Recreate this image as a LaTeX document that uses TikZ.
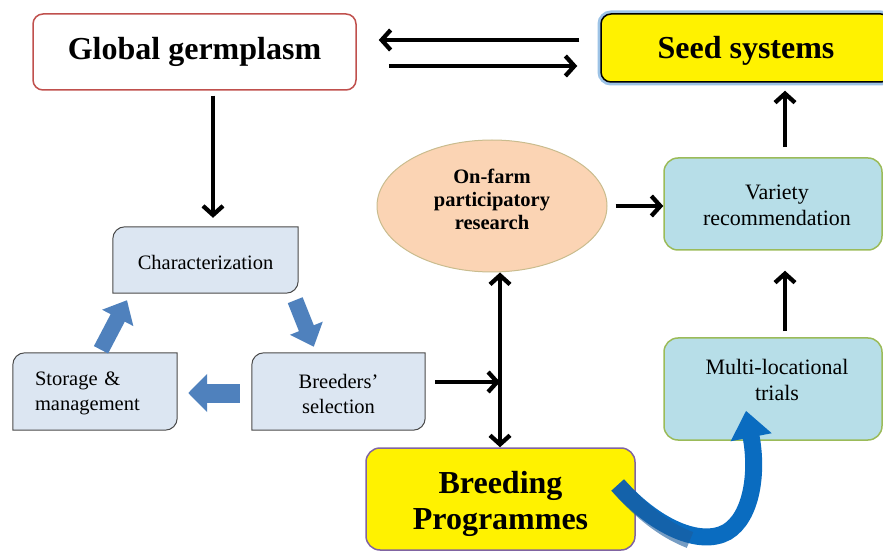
\documentclass[tikz,border=0pt]{standalone}
\usepackage{fontspec}
\setmainfont{Liberation Serif}
\usetikzlibrary{arrows.meta,shapes.geometric,backgrounds}
\definecolor{ggred}{HTML}{C0504D}
\definecolor{snipfill}{HTML}{DCE6F2}
\definecolor{snipline}{HTML}{4A4A4A}
\definecolor{varfill}{HTML}{B7DEE8}
\definecolor{vargreen}{HTML}{9BBB59}
\definecolor{ellfill}{HTML}{FBD4B4}
\definecolor{elltan}{HTML}{C9BC8E}
\definecolor{purp}{HTML}{8064A2}
\definecolor{blkblue}{HTML}{4F81BD}
\definecolor{curveblue}{HTML}{0A6CC0}
\definecolor{curvedark}{HTML}{1B5C9C}
\definecolor{glow}{HTML}{9DC3E6}
\begin{document}
\begin{tikzpicture}[x=1pt,y=1pt,
  bigtext/.style={font=\fontsize{32}{36}\selectfont\bfseries},
  ggbox/.style={draw=ggred,line width=1.5pt,fill=white,rounded corners=10pt,minimum width=323pt,minimum height=76pt,bigtext},
  seedbox/.style={draw=black,line width=1.5pt,fill=yellow,rounded corners=10pt,minimum width=290pt,minimum height=68pt,
     preaction={draw=glow,line width=7pt}},
  breedbox/.style={draw=purp,line width=1.5pt,fill=yellow,rounded corners=14pt,minimum width=269pt,minimum height=102pt},
  greenbox/.style={draw=vargreen,line width=1.5pt,fill=varfill,rounded corners=14pt,minimum width=218pt},
  greentext/.style={align=center,font=\fontsize{22}{26}\selectfont},
  snipnode/.style={minimum height=77pt,align=center,font=\fontsize{20.5}{25}\selectfont},
  sniptext/.style={align=center,font=\fontsize{20.5}{25}\selectfont},
  snippath/.style={draw=snipline,line width=1pt,fill=snipfill},
  ellnode/.style={ellipse,draw=elltan,line width=1pt,fill=ellfill,minimum width=230pt,minimum height=132pt},
  elltext/.style={align=center,font=\fontsize{20.5}{23.5}\selectfont\bfseries},
  arr/.style={line width=4.3pt,-{Straight Barb[length=9pt,width=20pt,line width=4.3pt]}},
  darr/.style={line width=4.3pt,{Straight Barb[length=9pt,width=20pt,line width=4.3pt]}-{Straight Barb[length=9pt,width=20pt,line width=4.3pt]}},
  blk/.style={blkblue,line width=16pt,-{Triangle[length=20pt,width=34pt]}},
  curvearr/.style={curveblue,line width=17pt,-{Triangle[length=27pt,width=40pt]}}
]
\useasboundingbox (0,0) rectangle (883,552);

% box shapes
\node[ggbox] (gg) at (194.5,500) {Global germplasm};
\node[seedbox] (seed) at (746,504) {};
\node[bigtext] (seedT) at ([yshift=-3pt]seed.center) {Seed systems};
\node[ellnode] (ell) at (492,346) {};
\node[elltext] (ellT) at ([yshift=7pt]ell.center) {On-farm\\participatory\\[-1pt]research};
\node[greenbox,minimum height=92pt] (var) at (773,348) {};
\node[greentext] (varT) at ([xshift=4pt,yshift=-1pt]var.center) {Variety\\recommendation};
\node[greenbox,minimum height=102pt] (multi) at (773,163) {};
\node[greentext] (multiT) at ([xshift=4pt,yshift=9pt]multi.center) {Multi-locational\\trials};
\node[breedbox] (breed) at (500.5,53) {};
\node[bigtext,align=center] (breedT) at ([yshift=-5pt]breed.center) {Breeding\\Programmes};
\node[snipnode,minimum width=185pt,minimum height=66pt] (char) at (205.5,292) {};
\node[snipnode,minimum width=164pt] (stor) at (95,160.5) {};
\node[snipnode,minimum width=173pt] (brs) at (338.5,160.5) {};

% snip-corner box outlines
\foreach \n in {char,stor,brs}{
  \draw[snippath] (\n.south west) -- ([yshift=-12pt]\n.north west)
     arc[start angle=180,end angle=90,radius=12pt] -- (\n.north east)
     -- ([yshift=12pt]\n.south east)
     arc[start angle=0,end angle=-90,radius=12pt] -- cycle;
}
\node[sniptext] (charT) at ([yshift=-2pt]char.center) {Characterization};
\node[sniptext,text width=120pt,align=left] (storT) at ([yshift=-2pt]stor.center) {Storage \&\\management};
\node[sniptext] (brsT) at ([yshift=-2pt]brs.center) {Breeders’\\selection};

% helper coordinates
\coordinate (cx) at (213,0);
\coordinate (cv) at (785,0);
\coordinate (cd) at (500,0);
\coordinate (j) at (500,170);

% arrows between germplasm and seed systems
\draw[arr,shorten <=21pt,shorten >=22pt] (seed.west |- 0,512) -- (gg.east |- 0,512);
\draw[arr,shorten <=32pt,shorten >=23pt] (gg.east |- 0,486) -- (seed.west |- 0,486);

% germplasm to characterization
\draw[arr,shorten <=5pt,shorten >=9pt] (gg.south -| cx) -- (char.north -| cx);

% ellipse to variety
\draw[arr,shorten <=8pt] (ell.east) -- (var.west |- ell.east);
% variety to seed
\draw[arr,shorten <=10pt,shorten >=8pt] (var.north -| cv) -- (seed.south -| cv);
% multi to variety
\draw[arr,shorten <=6pt,shorten >=20pt] (multi.north -| cv) -- (var.south -| cv);
% double arrow ellipse <-> breeding
\draw[darr] (ell.south -| cd) -- (breed.north -| cd);
% breeders to junction
\draw[arr,shorten <=10pt] (brs.east |- j) -- (j);

% blue block arrows
\draw[blk] ([xshift=6pt,yshift=3pt]stor.north) -- ([xshift=-78.5pt,yshift=-7pt]char.south);
\draw[blk] ([xshift=-3pt,yshift=-7pt]char.south east) -- ([xshift=62pt,yshift=6pt]brs.north west);
\draw[blk,line width=19pt,-{Triangle[length=19pt,width=37pt]}] ([xshift=-12pt,yshift=-1.5pt]brs.west) -- ([xshift=11pt,yshift=-1.5pt]stor.east);

% curved arrow breeding -> multi-locational
\draw[curvearr] ([xshift=-18pt,yshift=14pt]breed.east) .. controls (655,25) and (700,5) .. (727,20)
   .. controls (752,35) and (758,80) .. ([xshift=-27pt,yshift=30pt]multi.south);
\draw[curvedark,line width=17pt,opacity=0.6] ([xshift=-18pt,yshift=14pt]breed.east) .. controls (650,30) and (675,18) .. (690,12);
\end{tikzpicture}
\end{document}
